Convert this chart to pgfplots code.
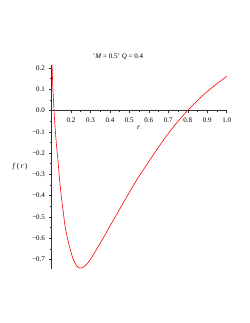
\documentclass[border=0pt]{standalone}
\usepackage{fontspec}
\setmainfont{Liberation Serif}
\usepackage{pgfplots}
\pgfplotsset{compat=1.18}
\begin{document}
\begin{tikzpicture}[x=1pt,y=1pt]
\path[fill=white] (0,0) rectangle (249,323);
\begin{axis}[
  at={(51.5pt,53.9pt)}, anchor=south west,
  scale only axis, width=175.2pt, height=204.4pt,
  xmin=0.1, xmax=1.0, ymin=-0.745, ymax=0.215,
  axis x line=middle, axis y line=left,
  axis line style={-, line width=0.6pt, black!80},
  xtick={0.2,0.3,0.4,0.5,0.6,0.7,0.8,0.9,1.0},
  xticklabels={0.2,0.3,0.4,0.5,0.6,0.7,0.8,0.9,1.0},
  ytick={-0.7,-0.6,-0.5,-0.4,-0.3,-0.2,-0.1,0,0.1,0.2},
  yticklabels={−0.7,−0.6,−0.5,−0.4,−0.3,−0.2,−0.1,0.0,0.1,0.2},
  minor x tick num=1, minor y tick num=1,
  tick align=outside,
  major tick length=2.5pt, minor tick length=1.8pt,
  tick style={black!80, line width=0.5pt},
  ticklabel style={font=\fontsize{7}{8}\selectfont},
  xticklabel style={yshift=-1pt},
  yticklabel style={xshift=-0.5pt},
  clip=false,
]
\addplot[red, line width=0.6pt, smooth, tension=0.5] coordinates {
(0.103,0.215) (0.106,0.13) (0.113,0.0) (0.120,-0.10) (0.127,-0.175)
(0.133,-0.232) (0.140,-0.31) (0.150,-0.40) (0.159,-0.466) (0.170,-0.545)
(0.188,-0.623) (0.210,-0.695) (0.230,-0.730) (0.245,-0.740) (0.260,-0.738)
(0.272,-0.730) (0.290,-0.712) (0.310,-0.685) (0.340,-0.639) (0.375,-0.584)
(0.409,-0.529) (0.445,-0.472) (0.478,-0.419) (0.538,-0.326) (0.600,-0.240)
(0.640,-0.185) (0.700,-0.108) (0.750,-0.051) (0.800,0.0) (0.850,0.047)
(0.900,0.089) (0.950,0.126) (1.000,0.160)
};
\end{axis}
\node[font=\fontsize{7}{8}\selectfont] at (118,266) {'\textit{M} = 0.5' \textit{Q} = 0.4};
\node[font=\fontsize{7.5}{8}\selectfont] at (138.5,195) {\textit{r}};
\node[font=\fontsize{7.5}{8}\selectfont] at (20,156) {\textit{f}\,(\,\textit{r}\,)};
\end{tikzpicture}
\end{document}
